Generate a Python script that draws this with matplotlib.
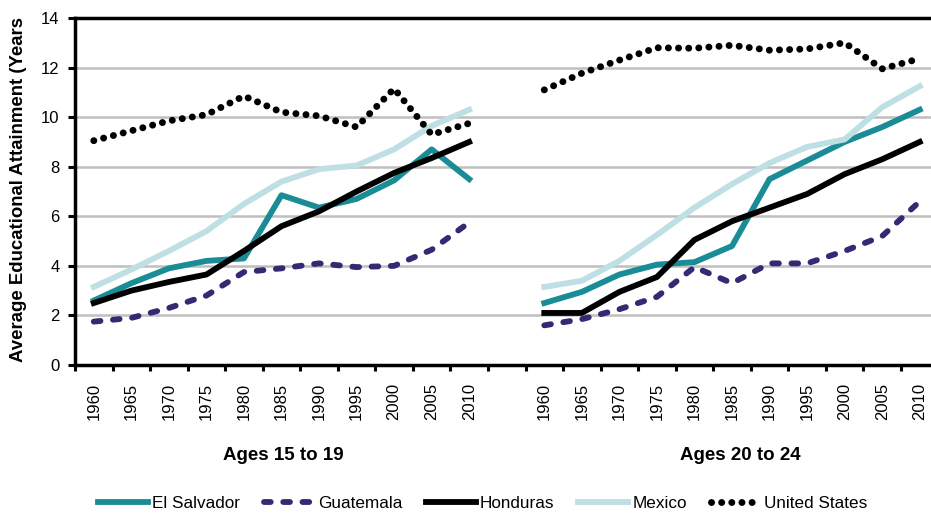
import numpy as np
import matplotlib
matplotlib.use('Agg')
import matplotlib.pyplot as plt
from matplotlib.ticker import FixedLocator

plt.rcParams['font.family'] = ['Liberation Sans', 'DejaVu Sans']

# 数据：两个年龄组，每组 1960-2010 每五年一个点
years = ['1960', '1965', '1970', '1975', '1980', '1985', '1990', '1995', '2000', '2005', '2010']
groups = ['Ages 15 to 19', 'Ages 20 to 24']

el_salvador_15 = [2.6, 3.3, 3.9, 4.2, 4.3, 6.85, 6.35, 6.7, 7.45, 8.7, 7.5]
guatemala_15 = [1.75, 1.9, 2.3, 2.8, 3.75, 3.9, 4.1, 3.95, 4.0, 4.65, 5.75]
honduras_15 = [2.5, 3.0, 3.35, 3.65, 4.6, 5.6, 6.2, 7.0, 7.75, 8.35, 9.0]
mexico_15 = [3.15, 3.85, 4.6, 5.4, 6.5, 7.4, 7.9, 8.05, 8.7, 9.65, 10.3]
us_15 = [9.05, 9.45, 9.85, 10.1, 10.85, 10.2, 10.05, 9.6, 11.15, 9.3, 9.75]

el_salvador_20 = [2.5, 2.95, 3.65, 4.05, 4.15, 4.8, 7.5, 8.25, 9.0, 9.6, 10.3]
guatemala_20 = [1.6, 1.85, 2.25, 2.75, 3.95, 3.3, 4.1, 4.1, 4.6, 5.2, 6.6]
honduras_20 = [2.1, 2.1, 2.95, 3.55, 5.05, 5.8, 6.35, 6.9, 7.7, 8.3, 9.0]
mexico_20 = [3.15, 3.4, 4.2, 5.25, 6.35, 7.3, 8.15, 8.8, 9.1, 10.4, 11.25]
us_20 = [11.1, 11.77, 12.3, 12.8, 12.78, 12.9, 12.7, 12.75, 13.0, 11.95, 12.36]

# 两组之间留一个空类别
def join(a, b):
    return list(a) + [np.nan] + list(b)

x = np.arange(len(years) * 2 + 1)
xlabels = years + [''] + years

fig = plt.figure(figsize=(9.31, 5.14), dpi=100)
ax = fig.add_axes([75 / 931, 1 - 365 / 514, 1 - 75 / 931, (365 - 18) / 514])

lw = 4.2
ax.plot(x, join(el_salvador_15, el_salvador_20), color='#1A8C96', lw=lw, label='El Salvador')
ax.plot(x, join(guatemala_15, guatemala_20), color='#322A72', lw=lw, label='Guatemala',
        dashes=(1.15, 2.15), dash_capstyle='round')
ax.plot(x, join(honduras_15, honduras_20), color='black', lw=lw, label='Honduras')
ax.plot(x, join(mexico_15, mexico_20), color='#BEDFE3', lw=lw, label='Mexico')
ax.plot(x, join(us_15, us_20), color='black', lw=5.0, label='United States',
        dashes=(0.01, 1.45), dash_capstyle='round')

# 坐标轴
ax.set_xlim(-0.5, 22.3)
ax.set_ylim(0, 14)
ax.set_yticks(range(0, 15, 2))
ax.yaxis.grid(True, color='#BFBFBF', lw=1.8)
ax.set_axisbelow(True)

ax.set_xticks(x)
ax.set_xticklabels(xlabels, rotation=90, fontsize=12)
ax.xaxis.set_minor_locator(FixedLocator(np.arange(-0.5, 23, 1)))
ax.tick_params(axis='x', which='major', length=0, pad=13)
ax.tick_params(axis='x', which='minor', length=4, width=2.2, direction='out')
ax.tick_params(axis='y', length=5, width=2.2, direction='out', labelsize=12, pad=6)

for s in ['left', 'bottom', 'top']:
    ax.spines[s].set_linewidth(2.5)
    ax.spines[s].set_color('black')
ax.spines['right'].set_visible(False)

fig.text(19 / 931, 1 - 190 / 514, 'Average Educational Attainment (Years', rotation=90,
         ha='center', va='center', fontsize=13.4, fontweight='bold')

fig.text(283 / 931, 1 - 455 / 514, groups[0], ha='center', va='center', fontsize=13.5, fontweight='bold')
fig.text(740 / 931, 1 - 455 / 514, groups[1], ha='center', va='center', fontsize=13.5, fontweight='bold')

fig.legend(loc='center', bbox_to_anchor=(483 / 931, 1 - 503 / 514), ncol=5, frameon=False,
           fontsize=12.3, handlelength=2.9, handletextpad=0.25, columnspacing=1.4)

plt.savefig('out.png', dpi=100)
